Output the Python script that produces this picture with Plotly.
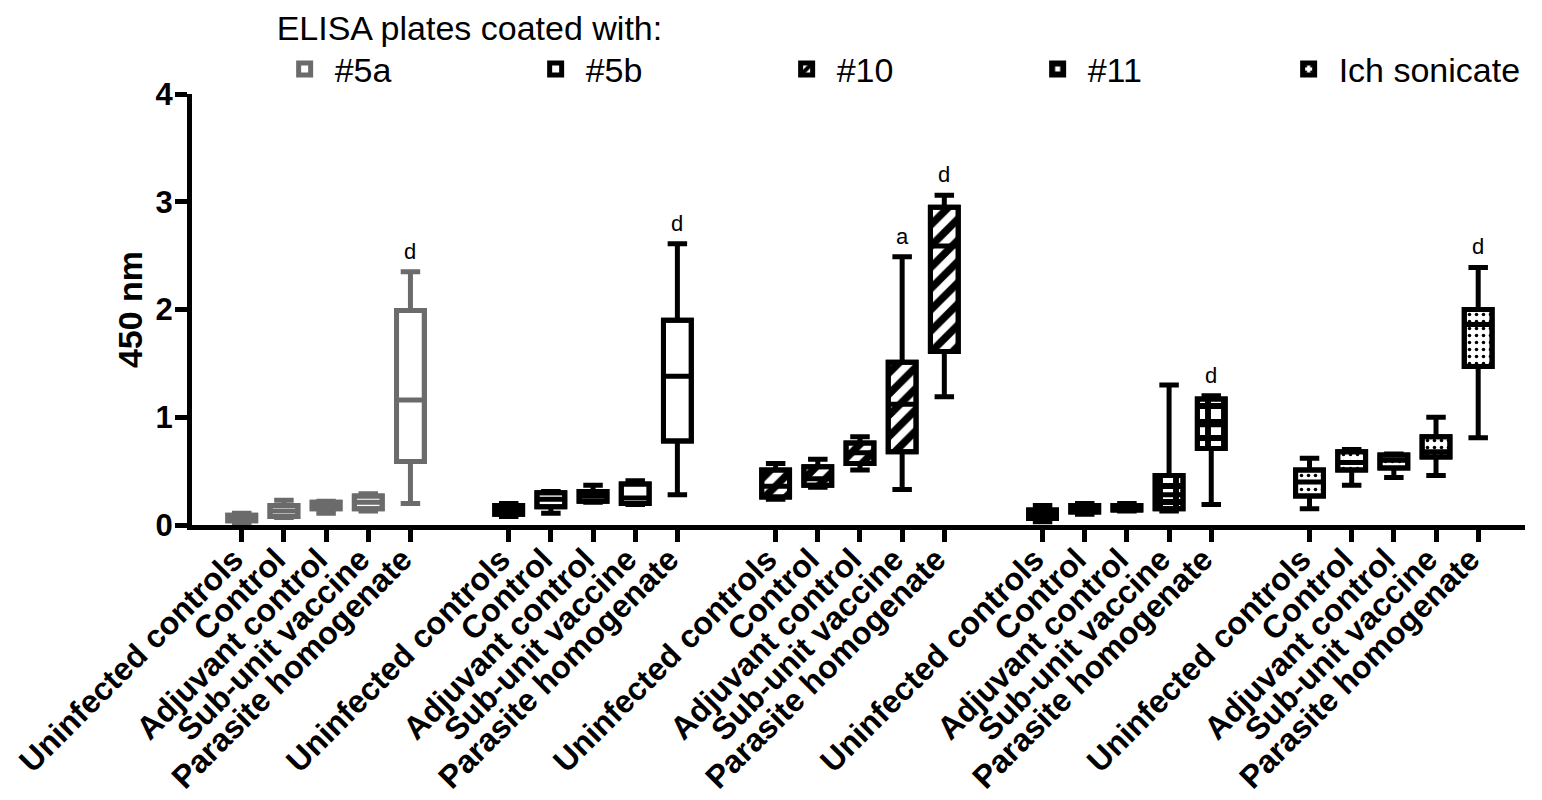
import plotly.graph_objects as go

# ---------------- data ----------------
categories = ["Uninfected controls", "Control", "Adjuvant control",
              "Sub-unit vaccine", "Parasite homogenate"]
antigens = ["#5a", "#5b", "#10", "#11", "Ich sonicate"]

# five-number summaries (min, q1, median, q3, max) per antigen, per category
min_5a = [0.01, 0.07, 0.11, 0.13, 0.20]
q1_5a = [0.04, 0.08, 0.15, 0.15, 0.59]
med_5a = [0.06, 0.13, 0.18, 0.21, 1.16]
q3_5a = [0.09, 0.18, 0.21, 0.27, 1.99]
max_5a = [0.11, 0.23, 0.22, 0.29, 2.35]

min_5b = [0.08, 0.11, 0.21, 0.19, 0.28]
q1_5b = [0.10, 0.17, 0.22, 0.20, 0.78]
med_5b = [0.14, 0.24, 0.27, 0.25, 1.38]
q3_5b = [0.18, 0.30, 0.31, 0.38, 1.90]
max_5b = [0.20, 0.31, 0.37, 0.41, 2.61]

min_10 = [0.24, 0.35, 0.51, 0.33, 1.19]
q1_10 = [0.26, 0.37, 0.57, 0.68, 1.61]
med_10 = [0.36, 0.43, 0.67, 1.12, 2.59]
q3_10 = [0.51, 0.54, 0.76, 1.51, 2.95]
max_10 = [0.57, 0.61, 0.82, 2.49, 3.06]

min_11 = [0.03, 0.10, 0.13, 0.13, 0.19]
q1_11 = [0.06, 0.12, 0.14, 0.15, 0.71]
med_11 = [0.10, 0.15, 0.16, 0.28, 0.93]
q3_11 = [0.14, 0.18, 0.18, 0.46, 1.17]
max_11 = [0.18, 0.20, 0.20, 1.30, 1.20]

min_ich = [0.15, 0.37, 0.44, 0.46, 0.81]
q1_ich = [0.27, 0.51, 0.53, 0.63, 1.47]
med_ich = [0.40, 0.58, 0.60, 0.68, 1.86]
q3_ich = [0.51, 0.68, 0.65, 0.82, 2.00]
max_ich = [0.62, 0.70, 0.66, 1.00, 2.39]

letters_5a = ["", "", "", "", "d"]
letters_5b = ["", "", "", "", "d"]
letters_10 = ["", "", "", "a", "d"]
letters_11 = ["", "", "", "", "d"]
letters_ich = ["", "", "", "", "d"]

y_ticks = [0, 1, 2, 3, 4]

# ---------------- styling ----------------
FONT = "Liberation Sans, Arial, sans-serif"
GROUP_STEP = 6.33
BOX_W = 0.66
LW = 5
GREY = "#6b6b6b"

groups = [
    dict(name=antigens[0], mn=min_5a, q1=q1_5a, med=med_5a, q3=q3_5a, mx=max_5a,
         letters=letters_5a, color=GREY, pattern=None),
    dict(name=antigens[1], mn=min_5b, q1=q1_5b, med=med_5b, q3=q3_5b, mx=max_5b,
         letters=letters_5b, color="black", pattern=None),
    dict(name=antigens[2], mn=min_10, q1=q1_10, med=med_10, q3=q3_10, mx=max_10,
         letters=letters_10, color="black",
         pattern=dict(shape="/", fgcolor="black", bgcolor="white", size=15,
                      solidity=0.5, fgopacity=1)),
    dict(name=antigens[3], mn=min_11, q1=q1_11, med=med_11, q3=q3_11, mx=max_11,
         letters=letters_11, color="black",
         pattern=dict(shape="+", fgcolor="black", bgcolor="white", size=16,
                      solidity=0.6, fgopacity=1)),
    dict(name=antigens[4], mn=min_ich, q1=q1_ich, med=med_ich, q3=q3_ich, mx=max_ich,
         letters=letters_ich, color="black",
         pattern=dict(shape=".", fgcolor="black", bgcolor="white", size=7,
                      solidity=0.2, fgopacity=1)),
]

fig = go.Figure()
tickvals, ticktext = [], []
annotations = []

for gi, g in enumerate(groups):
    pos = [gi * GROUP_STEP + j for j in range(len(categories))]
    tickvals += pos
    ticktext += categories
    marker = dict(color="white", line=dict(color=g["color"], width=LW))
    if g["pattern"] is not None:
        marker["pattern"] = g["pattern"]
    fig.add_trace(go.Bar(
        x=pos, y=[b - a for a, b in zip(g["q1"], g["q3"])], base=g["q1"],
        width=BOX_W, marker=marker, name=g["name"], showlegend=True,
        hoverinfo="skip"))
    fig.add_trace(go.Box(
        x=pos, q1=g["q1"], median=g["med"], q3=g["q3"],
        lowerfence=g["mn"], upperfence=g["mx"],
        width=BOX_W, whiskerwidth=0.7, boxpoints=False,
        line=dict(color=g["color"], width=LW), fillcolor="rgba(0,0,0,0)",
        showlegend=False, hoverinfo="skip"))
    for p, m, t in zip(pos, g["mx"], g["letters"]):
        if t:
            annotations.append(dict(x=p, y=m, text=t, showarrow=False,
                                    yanchor="bottom", yshift=6,
                                    font=dict(family=FONT, size=22, color="black")))

fig.update_layout(
    width=1542, height=800,
    margin=dict(l=184, r=25, t=86, b=283, autoexpand=False),
    paper_bgcolor="white", plot_bgcolor="white",
    barmode="overlay", boxmode="overlay",
    font=dict(family=FONT, color="black"),
    annotations=annotations,
    legend=dict(orientation="h", x=0.062, y=1.227, xanchor="left", yanchor="top",
                font=dict(family=FONT, size=34, color="black"),
                title=dict(text="ELISA plates coated with:", side="top",
                           font=dict(family=FONT, size=34, color="black")),
                itemwidth=50,
                entrywidth=186, entrywidthmode="pixels",
                bgcolor="rgba(0,0,0,0)"),
    xaxis=dict(range=[-1.18, 30.43], tickmode="array", tickvals=tickvals,
               ticktext=ticktext, tickangle=-45, showgrid=False, zeroline=False,
               showline=True, linecolor="black", linewidth=LW, automargin=False,
               ticks="outside", ticklen=12, tickwidth=LW, tickcolor="black",
               ticklabelstandoff=-14, ticklabelshift=-8, ticklabeloverflow="allow",
               tickfont=dict(family=FONT, size=32, color="black", weight="bold")),
    yaxis=dict(range=[0, 4], tickmode="array", tickvals=y_ticks,
               showgrid=False, zeroline=False, automargin=False,
               showline=True, linecolor="black", linewidth=LW,
               ticks="outside", ticklen=12, tickwidth=LW, tickcolor="black",
               ticklabelstandoff=-4, ticklabeloverflow="allow",
               tickfont=dict(family=FONT, size=31, color="black", weight="bold"),
               title=dict(text="450 nm", standoff=4,
                          font=dict(family=FONT, size=34, color="black", weight="bold"))),
)

fig.write_html("out.html")
